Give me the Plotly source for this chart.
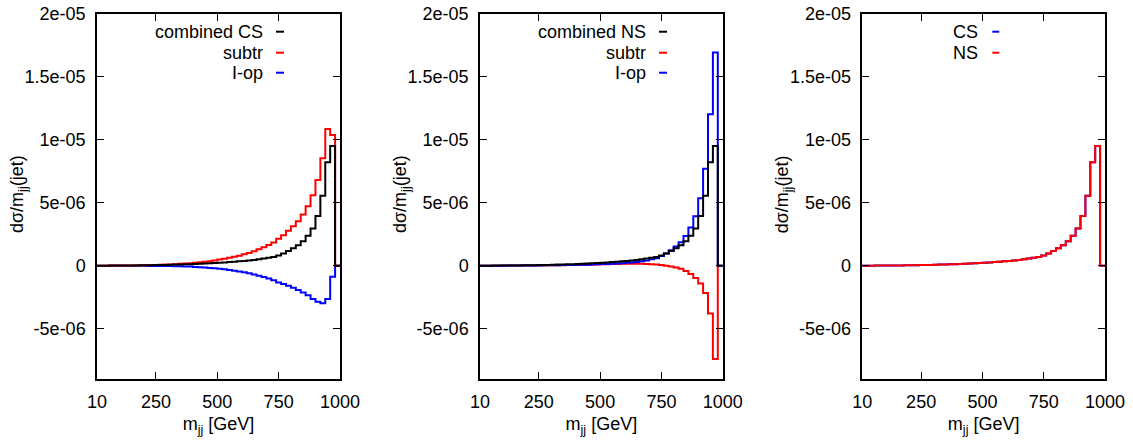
import plotly.graph_objects as go

# ---------------- data (values in units of 1e-6) ----------------
bin_edges = list(range(0, 1001, 20))  # 50 bins, 0..1000 GeV

combined = [0.002, 0.004, 0.006, 0.008, 0.011, 0.014, 0.018, 0.022, 0.026, 0.031,
            0.037, 0.043, 0.050, 0.058, 0.067, 0.077, 0.088, 0.100, 0.112, 0.125,
            0.140, 0.155, 0.170, 0.190, 0.215, 0.240, 0.265, 0.290, 0.320, 0.350,
            0.385, 0.420, 0.460, 0.510, 0.565, 0.625, 0.690, 0.820, 0.980, 1.17,
            1.38, 1.62, 1.94, 2.38, 2.96, 3.95, 5.55, 8.23, 9.52, 0.0]

subtr_cs = [0.002, 0.004, 0.007, 0.009, 0.013, 0.016, 0.021, 0.026, 0.031, 0.038,
            0.046, 0.055, 0.065, 0.077, 0.091, 0.107, 0.126, 0.147, 0.170, 0.195,
            0.240, 0.275, 0.315, 0.365, 0.425, 0.490, 0.555, 0.630, 0.710, 0.800,
            0.905, 1.02, 1.15, 1.30, 1.465, 1.645, 1.84, 2.15, 2.43, 2.77,
            3.13, 3.54, 4.06, 4.73, 5.60, 6.81, 8.54, 10.87, 10.39, 0.0]

iop_cs = [-0.0002, -0.0004, -0.0007, -0.001, -0.0015, -0.002, -0.003, -0.004, -0.005, -0.007,
          -0.009, -0.012, -0.015, -0.019, -0.024, -0.030, -0.038, -0.047, -0.058, -0.070,
          -0.100, -0.120, -0.145, -0.175, -0.210, -0.250, -0.290, -0.340, -0.390, -0.450,
          -0.520, -0.600, -0.690, -0.790, -0.900, -1.02, -1.15, -1.33, -1.45, -1.60,
          -1.75, -1.92, -2.12, -2.35, -2.64, -2.86, -2.99, -2.64, -0.87, 0.0]

subtr_ns = [0.001, 0.002, 0.003, 0.004, 0.005, 0.006, 0.008, 0.010, 0.012, 0.014,
            0.017, 0.020, 0.023, 0.027, 0.031, 0.036, 0.041, 0.047, 0.053, 0.060,
            0.067, 0.075, 0.083, 0.092, 0.100, 0.110, 0.120, 0.130, 0.140, 0.150,
            0.155, 0.160, 0.160, 0.155, 0.140, 0.120, 0.090, 0.050, 0.000, -0.060,
            -0.140, -0.240, -0.420, -0.660, -0.970, -1.42, -2.16, -3.80, -7.42, 0.0]

iop_ns = [0.001, 0.002, 0.003, 0.004, 0.006, 0.008, 0.010, 0.012, 0.014, 0.017,
          0.020, 0.023, 0.027, 0.031, 0.036, 0.041, 0.047, 0.053, 0.059, 0.065,
          0.073, 0.080, 0.087, 0.098, 0.115, 0.130, 0.145, 0.160, 0.180, 0.200,
          0.230, 0.260, 0.300, 0.355, 0.425, 0.505, 0.600, 0.770, 0.980, 1.23,
          1.52, 1.86, 2.36, 3.04, 3.93, 5.37, 7.71, 12.03, 16.94, 0.0]

total_cs = [0.002, 0.004, 0.006, 0.008, 0.011, 0.014, 0.018, 0.022, 0.026, 0.031,
            0.037, 0.043, 0.050, 0.058, 0.067, 0.077, 0.088, 0.100, 0.112, 0.125,
            0.140, 0.155, 0.170, 0.190, 0.215, 0.240, 0.265, 0.290, 0.320, 0.350,
            0.385, 0.420, 0.460, 0.510, 0.565, 0.625, 0.690, 0.820, 0.980, 1.17,
            1.38, 1.62, 1.94, 2.38, 2.96, 3.95, 5.55, 8.23, 9.52, 0.0]

total_ns = [0.002, 0.004, 0.006, 0.008, 0.011, 0.014, 0.018, 0.022, 0.026, 0.031,
            0.037, 0.043, 0.050, 0.058, 0.067, 0.077, 0.088, 0.100, 0.112, 0.125,
            0.140, 0.155, 0.170, 0.190, 0.215, 0.240, 0.265, 0.290, 0.320, 0.350,
            0.385, 0.420, 0.460, 0.510, 0.565, 0.625, 0.690, 0.820, 0.980, 1.17,
            1.38, 1.62, 1.94, 2.38, 2.96, 3.95, 5.55, 8.23, 9.52, 0.0]

x_ticks = [10, 250, 500, 750, 1000]
x_tick_text = ["10", "250", "500", "750", "1000"]
y_ticks = [-5e-06, 0, 5e-06, 1e-05, 1.5e-05, 2e-05]
y_tick_text = ["-5e-06", "0", "5e-06", "1e-05", "1.5e-05", "2e-05"]
x_title = "m<sub>jj</sub> [GeV]"
y_title = "dσ/m<sub>jj</sub>(jet)"

panels = [
    [("combined CS", combined, "#000000"), ("subtr", subtr_cs, "#ff0000"), ("I-op", iop_cs, "#0000ff")],
    [("combined NS", combined, "#000000"), ("subtr", subtr_ns, "#ff0000"), ("I-op", iop_ns, "#0000ff")],
    [("CS", total_cs, "#0000ff"), ("NS", total_ns, "#ff0000")],
]
# draw order (first drawn underneath)
draw_orders = [[2, 1, 0], [1, 2, 0], [0, 1]]

# ---------------- layout geometry (pixels) ----------------
W, H = 1133, 442
TOP, BOTTOM = 14, 379
panel_px = [(97, 340), (480, 722.7), (862.3, 1105)]
legend_text_right = [168, 168, 118]
legend_sample = [(179, 187), (179, 187), (130, 137)]
legend_rows_y = [31.7, 52.7, 72.7]

FONT = "Liberation Sans, Arial, sans-serif"
FS = 18

def px_x(p):
    return p / W

def px_y(p):
    return (BOTTOM - p) / (BOTTOM - TOP)

fig = go.Figure()
annotations = []
shapes = []

for i, series in enumerate(panels):
    xa = "x" if i == 0 else f"x{i+1}"
    ya = "y" if i == 0 else f"y{i+1}"
    for k in draw_orders[i]:
        name, vals, col = series[k]
        xs = bin_edges[:-1] + [bin_edges[-1]]
        ys = [v * 1e-6 for v in vals] + [vals[-1] * 1e-6]
        fig.add_trace(go.Scatter(x=xs, y=ys, mode="lines", line=dict(color=col, width=2, shape="hv"),
                                 name=name, showlegend=False, xaxis=xa, yaxis=ya,
                                 hoverinfo="skip"))
    left, right = panel_px[i]
    axis_common = dict(showline=True, linecolor="black", linewidth=1.5, mirror="ticks",
                       ticks="inside", ticklen=7, tickwidth=1.2, tickcolor="black",
                       showgrid=False, zeroline=False, automargin=False,
                       tickfont=dict(family=FONT, size=FS, color="black"))
    fig.layout[("xaxis" if i == 0 else f"xaxis{i+1}")] = dict(
        domain=[px_x(left), px_x(right)], range=[10, 1000], anchor=ya,
        tickvals=x_ticks, ticktext=x_tick_text, ticklabelstandoff=6,
        title=dict(text=x_title, font=dict(family=FONT, size=FS, color="black"), standoff=6),
        **axis_common)
    fig.layout[("yaxis" if i == 0 else f"yaxis{i+1}")] = dict(
        domain=[0, 1], range=[-9e-06, 2e-05], anchor=xa,
        tickvals=y_ticks, ticktext=y_tick_text, ticklabelstandoff=6,
        **axis_common)

    # y axis title
    annotations.append(dict(text=y_title, xref="paper", yref="paper",
                            x=px_x(left - 79), y=px_y(194), xanchor="center", yanchor="middle",
                            textangle=-90, showarrow=False,
                            font=dict(family=FONT, size=FS, color="black")))

    # key (gnuplot style: text right-justified, sample to the right)
    for r, (name, vals, col) in enumerate(series):
        yy = px_y(legend_rows_y[r])
        annotations.append(dict(text=name, xref="paper", yref="paper",
                                x=px_x(left + legend_text_right[i]), y=yy,
                                xanchor="right", yanchor="middle", showarrow=False,
                                font=dict(family=FONT, size=FS, color="black")))
        s0, s1 = legend_sample[i]
        shapes.append(dict(type="line", xref="paper", yref="paper",
                           x0=px_x(left + s0), x1=px_x(left + s1), y0=yy, y1=yy,
                           line=dict(color=col, width=2)))

fig.update_layout(width=W, height=H, margin=dict(l=0, r=0, t=TOP, b=H - BOTTOM),
                  paper_bgcolor="white", plot_bgcolor="white",
                  annotations=annotations, shapes=shapes, showlegend=False,
                  font=dict(family=FONT, size=FS, color="black"))

fig.write_html("out.html", config={"displayModeBar": False},
               post_script="document.body.style.margin='0';document.body.style.padding='0';")
